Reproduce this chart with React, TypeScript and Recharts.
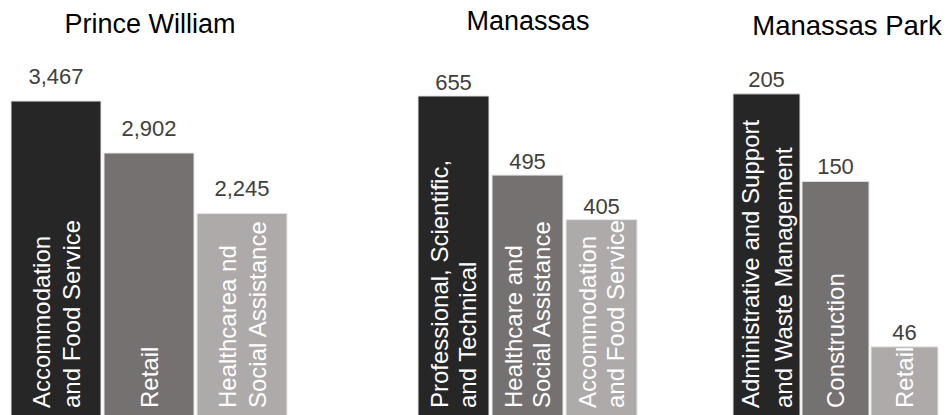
import React from "react";
import { BarChart, Bar, XAxis, YAxis, Cell, LabelList } from "recharts";

// jobs by industry, top three per locality
const pwIndustries = ["Accommodation\nand Food Service", "Retail", "Healthcarea nd\nSocial Assistance"];
const pwJobs = [3467, 2902, 2245];

const manIndustries = ["Professional, Scientific,\nand Technical", "Healthcare and\nSocial Assistance", "Accommodation\nand Food Service"];
const manJobs = [655, 495, 405];

const mpIndustries = ["Administrative and Support\nand Waste Management", "Construction", "Retail"];
const mpJobs = [205, 150, 46];

const barColors = ["#262626", "#757171", "#aeaaaa"];
const font = "Arial, 'Liberation Sans', sans-serif";

const CHART_H = 420;

function makeInsideLabel(spacing: number) {
  return function InsideLabel(props: any) {
    const { x, y, width, height, value } = props;
    const lines = String(value).split("\n");
    const cx = Number(x) + Number(width) / 2;
    const bottom = Number(y) + Number(height) - 12;
    return (
      <g transform={`translate(${cx}, ${bottom}) rotate(-90)`}>
        {lines.map((line, i) => (
          <text
            key={i}
            x={0}
            y={(i - (lines.length - 1) / 2) * spacing}
            dominantBaseline="central"
            textAnchor="start"
            fill="#ffffff"
            fontSize={24}
            fontFamily={font}
          >
            {line}
          </text>
        ))}
      </g>
    );
  };
}

interface PanelProps {
  industries: string[];
  jobs: number[];
  left: number;
  width: number;
  barSize: number;
  yMax: number;
  valueGap: number;
  lineGap: number;
}

function Panel({ industries, jobs, left, width, barSize, yMax, valueGap, lineGap }: PanelProps) {
  const rows = industries.map((name, i) => ({ name, jobs: jobs[i] }));
  return (
    <div style={{ position: "absolute", left, top: 0 }}>
      <BarChart
        width={width}
        height={CHART_H}
        data={rows}
        margin={{ top: 0, right: 0, bottom: 0, left: 0 }}
        barSize={barSize}
      >
        <XAxis dataKey="name" hide />
        <YAxis hide domain={[0, yMax]} allowDataOverflow />
        <Bar dataKey="jobs" isAnimationActive={false} stroke="#e7e6e6" strokeWidth={1}>
          {rows.map((r, i) => (
            <Cell key={r.name} fill={barColors[i]} />
          ))}
          <LabelList
            dataKey="jobs"
            position="top"
            offset={valueGap}
            fill="#404040"
            fontSize={22}
            fontFamily={font}
            formatter={(v: any) => Number(v).toLocaleString("en-US")}
          />
          <LabelList dataKey="name" content={makeInsideLabel(lineGap)} />
        </Bar>
      </BarChart>
    </div>
  );
}

export default function App() {
  return (
    <div
      style={{
        position: "fixed",
        left: 0,
        top: 0,
        width: 947,
        height: 415,
        overflow: "hidden",
        background: "#ffffff",
        fontFamily: font,
      }}
    >
      <Panel industries={pwIndustries} jobs={pwJobs} left={9} width={279} barSize={90} yMax={4565} valueGap={17} lineGap={30} />
      <Panel industries={manIndustries} jobs={manJobs} left={416} width={222} barSize={71} yMax={849} valueGap={6} lineGap={28} />
      <Panel industries={mpIndustries} jobs={mpJobs} left={732} width={207} barSize={67} yMax={264} valueGap={7} lineGap={33} />
      <svg width={947} height={415} style={{ position: "absolute", left: 0, top: 0, pointerEvents: "none" }}>
        <text x={150} y={33} textAnchor="middle" fontSize={27} fontFamily={font} fill="#000000">
          Prince William
        </text>
        <text x={528} y={30} textAnchor="middle" fontSize={27} fontFamily={font} fill="#000000">
          Manassas
        </text>
        <text x={847} y={35} textAnchor="middle" fontSize={27.5} fontFamily={font} fill="#000000">
          Manassas Park
        </text>
      </svg>
    </div>
  );
}
